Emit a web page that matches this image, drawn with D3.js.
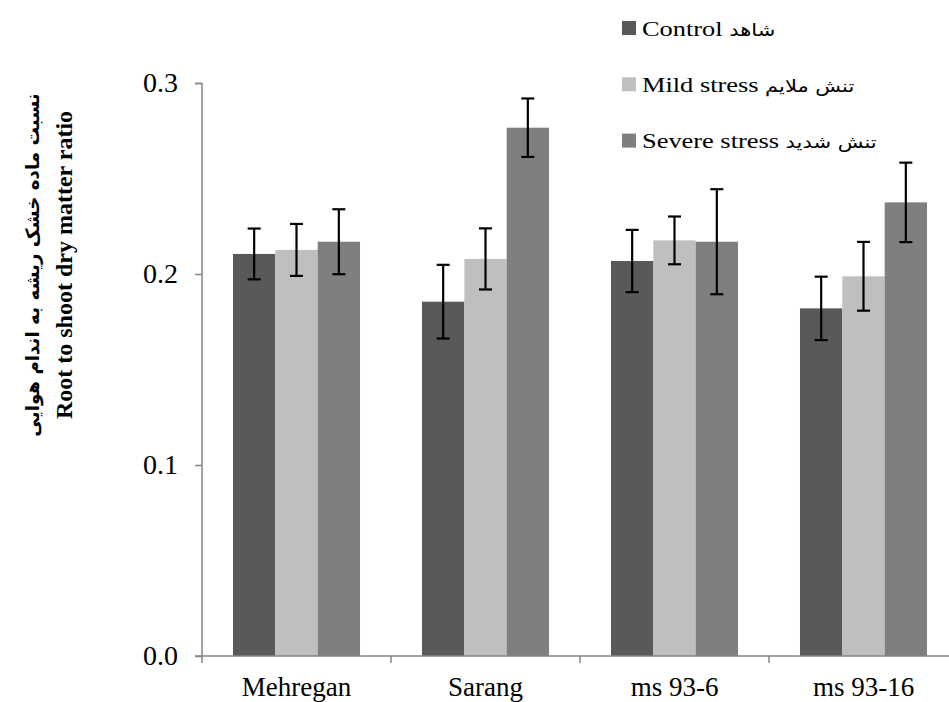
<!DOCTYPE html>
<html>
<head>
<meta charset="utf-8">
<script src="https://cdn.jsdelivr.net/npm/d3@7"></script>
<style>
  body{margin:0;background:#fff;}
  svg{display:block;}
</style>
</head>
<body>
<svg id="chart" width="949" height="702"></svg>
<script>
//data---------------------------
var categories=['Mehregan','Sarang','ms 93-6','ms 93-16'];
var seriesNames=['Control','Mild stress','Severe stress'];
var seriesFa=['شاهد','تنش ملایم','تنش شدید'];
var control=[0.2105,0.1855,0.2068,0.182];
var mild=[0.2126,0.2079,0.2176,0.1988];
var severe=[0.2169,0.2766,0.2169,0.2375];
var errControl=[0.0133,0.0193,0.0163,0.0166];
var errMild=[0.0136,0.016,0.0125,0.018];
var errSevere=[0.017,0.0153,0.0275,0.0208];
var yTicks=[0,0.1,0.2,0.3];
var colors=['#595959','#bfbfbf','#7f7f7f'];

var LAT='Liberation Serif';
var FA='DejaVu Sans';

var values=[control,mild,severe];
var errors=[errControl,errMild,errSevere];

var svg=d3.select('#chart');

//scales
var x=d3.scaleBand()
  .domain(categories)
  .range([202,958])
  .paddingInner(0.328)
  .paddingOuter(0.164);
var xs=d3.scaleBand()
  .domain(d3.range(seriesNames.length))
  .range([0,x.bandwidth()]);
var y=d3.scaleLinear()
  .domain([0,0.3])
  .range([656,83]);

//bars
var rows=[];
categories.forEach((c,i)=>{
  values.forEach((s,j)=>{
    rows.push({cat:c,s:j,v:s[i],e:errors[j][i]});
  });
});

svg.append('g').selectAll('rect')
  .data(rows)
  .join('rect')
  .attr('x',d=>x(d.cat)+xs(d.s))
  .attr('y',d=>y(d.v))
  .attr('width',xs.bandwidth())
  .attr('height',d=>y(0)-y(d.v))
  .attr('fill',d=>colors[d.s]);

//axes
var yAxis=svg.append('g')
  .attr('transform','translate(202,0)')
  .call(d3.axisLeft(y).tickValues(yTicks).tickFormat(d3.format('.1f')).tickSize(7).tickPadding(17));
yAxis.attr('font-family',LAT).attr('font-size',28);
yAxis.select('.domain').attr('stroke','#868686').attr('stroke-width',1.5).attr('d','M-7,83.5H0V656');
yAxis.selectAll('.tick line').attr('stroke','#868686').attr('stroke-width',1.5);
yAxis.selectAll('.tick text').attr('fill','#000');

var xAxis=svg.append('g').attr('transform','translate(0,656)');
xAxis.append('line')
  .attr('x1',195).attr('x2',949)
  .attr('stroke','#868686').attr('stroke-width',1.5);
xAxis.selectAll('.xt')
  .data(categories)
  .join('line')
  .attr('class','xt')
  .attr('x1',d=>x(d)-x.step()*x.paddingOuter())
  .attr('x2',d=>x(d)-x.step()*x.paddingOuter())
  .attr('y1',0).attr('y2',7)
  .attr('stroke','#868686').attr('stroke-width',1.5);
xAxis.selectAll('.xl')
  .data(categories)
  .join('text')
  .attr('class','xl')
  .attr('x',d=>x(d)+x.bandwidth()/2)
  .attr('y',40)
  .attr('text-anchor','middle')
  .attr('font-family',LAT)
  .attr('font-size',27)
  .text(d=>d);

//error bars
var eb=svg.append('g').attr('stroke','#000').attr('stroke-width',2.2);
rows.forEach(d=>{
  var cx=x(d.cat)+xs(d.s)+xs.bandwidth()/2;
  eb.append('line').attr('x1',cx).attr('x2',cx).attr('y1',y(d.v+d.e)).attr('y2',y(d.v-d.e));
  eb.append('line').attr('x1',cx-6.5).attr('x2',cx+6.5).attr('y1',y(d.v+d.e)).attr('y2',y(d.v+d.e));
  eb.append('line').attr('x1',cx-6.5).attr('x2',cx+6.5).attr('y1',y(d.v-d.e)).attr('y2',y(d.v-d.e));
});

//legend
var leg=svg.append('g');
seriesNames.forEach((n,i)=>{
  var cy=28+i*56.3;
  leg.append('rect')
    .attr('x',622).attr('y',cy-7).attr('width',14).attr('height',14)
    .attr('fill',colors[i]);
  var t=leg.append('text')
    .attr('transform','translate(642,'+(cy+7.5)+') scale(1.2,1)')
    .attr('direction','ltr');
  t.append('tspan').attr('font-family',LAT).attr('font-size',22).text(n+' ');
  t.append('tspan').attr('font-family',FA).attr('font-size',17.5).text(seriesFa[i]);
});

//y axis title
var yt=svg.append('g').attr('transform','translate(72,265) rotate(-90)');
yt.append('text')
  .attr('font-family',LAT)
  .attr('text-anchor','middle')
  .attr('font-size',24)
  .attr('font-weight','bold')
  .text('Root to shoot dry matter ratio');
yt.append('text')
  .attr('font-family',FA)
  .attr('text-anchor','middle')
  .attr('y',-33)
  .attr('font-size',18.3)
  .attr('font-weight','bold')
  .text('نسبت ماده خشک ریشه به اندام هوایی');
</script>
</body>
</html>
